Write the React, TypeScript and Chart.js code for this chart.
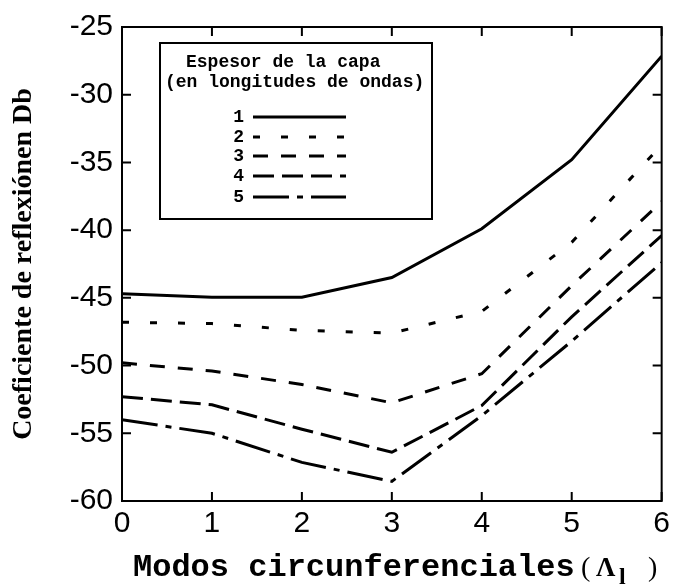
import React, { useEffect, useRef } from "react";
import { Chart, registerables } from "chart.js";

Chart.register(...registerables);

const modes = [0, 1, 2, 3, 4, 5, 6];
const capa1 = [-44.7, -44.95, -44.95, -43.5, -39.9, -34.8, -27.15];
const capa2 = [-46.8, -46.9, -47.4, -47.6, -46.0, -40.9, -33.7];
const capa3 = [-49.8, -50.4, -51.4, -52.75, -50.6, -44.1, -37.9];
const capa4 = [-52.3, -52.9, -54.7, -56.4, -52.95, -46.4, -40.4];
const capa5 = [-54.0, -55.0, -57.15, -58.55, -53.7, -48.2, -42.4];
const seriesLabels = ["1", "2", "3", "4", "5"];
const legendTitle = ["Espesor de la capa", "(en longitudes de ondas)"];
const yTitle = "Coeficiente de reflexiónen Db";
const xTitleMain = "Modos circunferenciales";

const dashes: number[][] = [[], [7, 21], [15, 13], [21, 8], [36, 8, 6, 8]];

const frameTicks = {
  id: "frameTicks",
  afterDatasetsDraw(chart: any) {
    const { ctx, chartArea } = chart;
    const { left, right, top, bottom } = chartArea;
    const xs = chart.scales.x;
    const ys = chart.scales.y;
    ctx.save();
    ctx.strokeStyle = "#000";
    ctx.lineWidth = 2;
    ctx.setLineDash([]);
    ctx.strokeRect(left, top, right - left, bottom - top);
    const tl = 9;
    ctx.beginPath();
    xs.ticks.forEach((t: any) => {
      const px = xs.getPixelForValue(t.value);
      ctx.moveTo(px, bottom);
      ctx.lineTo(px, bottom - tl);
      ctx.moveTo(px, top);
      ctx.lineTo(px, top + tl);
    });
    ys.ticks.forEach((t: any) => {
      const py = ys.getPixelForValue(t.value);
      ctx.moveTo(left, py);
      ctx.lineTo(left + tl, py);
      ctx.moveTo(right, py);
      ctx.lineTo(right - tl, py);
    });
    ctx.stroke();
    ctx.restore();
  },
};

const boxLegend = {
  id: "boxLegend",
  afterDraw(chart: any) {
    const { ctx } = chart;
    const bx = 160, by = 43, bw = 272, bh = 176;
    ctx.save();
    ctx.fillStyle = "#fff";
    ctx.fillRect(bx, by, bw, bh);
    ctx.strokeStyle = "#000";
    ctx.lineWidth = 2;
    ctx.setLineDash([]);
    ctx.strokeRect(bx, by, bw, bh);
    ctx.fillStyle = "#000";
    ctx.font = "bold 18px 'Liberation Mono'";
    ctx.textAlign = "left";
    ctx.textBaseline = "middle";
    ctx.fillText(legendTitle[0], 186, 62);
    ctx.fillText(legendTitle[1], 165, 82);
    const rows = [117, 137, 156, 176, 197];
    chart.data.datasets.forEach((ds: any, i: number) => {
      ctx.textAlign = "right";
      ctx.fillStyle = "#000";
      ctx.fillText(seriesLabels[i], 244, rows[i]);
      ctx.beginPath();
      ctx.lineWidth = 3;
      ctx.setLineDash(ds.borderDash || []);
      ctx.moveTo(253, rows[i]);
      ctx.lineTo(346, rows[i]);
      ctx.stroke();
    });
    ctx.restore();
  },
};

const xTitle = {
  id: "xTitle",
  afterDraw(chart: any) {
    const { ctx } = chart;
    ctx.save();
    ctx.fillStyle = "#000";
    ctx.textBaseline = "alphabetic";
    ctx.textAlign = "left";
    const base = 576;
    ctx.font = "bold 32px 'Liberation Mono'";
    ctx.fillText(xTitleMain, 133, base);
    ctx.font = "28px 'Liberation Serif'";
    ctx.fillText("(", 581, base);
    ctx.font = "bold 27px 'Liberation Serif'";
    ctx.fillText("Λ", 596, base);
    ctx.font = "bold 24px 'Liberation Serif'";
    ctx.fillText("l", 619, base + 8);
    ctx.font = "28px 'Liberation Serif'";
    ctx.fillText(")", 648, base);
    ctx.restore();
  },
};

export default function App() {
  const ref = useRef<HTMLCanvasElement>(null);
  useEffect(() => {
    if (!ref.current) return;
    const series = [capa1, capa2, capa3, capa4, capa5];
    const chart = new Chart(ref.current, {
      type: "line",
      data: {
        datasets: series.map((s, i) => ({
          label: seriesLabels[i],
          data: s.map((v, j) => ({ x: modes[j], y: v })),
          borderColor: "#000",
          borderWidth: 3,
          borderDash: dashes[i],
          pointRadius: 0,
          fill: false,
          tension: 0,
        })),
      },
      options: {
        animation: false,
        responsive: false,
        layout: { padding: { top: 18, right: 11, left: 0, bottom: 0 } },
        plugins: { legend: { display: false }, tooltip: { enabled: false } },
        scales: {
          x: {
            type: "linear",
            min: 0,
            max: 6,
            grid: { display: false, drawTicks: false },
            border: { display: false },
            ticks: {
              stepSize: 1,
              color: "#000",
              padding: 5,
              font: { family: "'Liberation Sans'", size: 30 },
            },
            afterFit: (s: any) => {
              s.height = 85;
            },
          },
          y: {
            type: "linear",
            min: -60,
            max: -25,
            grid: { display: false, drawTicks: false },
            border: { display: false },
            ticks: {
              stepSize: 5,
              color: "#000",
              padding: 9,
              font: { family: "'Liberation Sans'", size: 30 },
            },
            title: {
              display: true,
              text: yTitle,
              color: "#000",
              font: { family: "'Liberation Serif'", size: 28, weight: "bold" },
              padding: { top: 7, bottom: 0 },
            },
            afterFit: (s: any) => {
              s.width = 122;
            },
          },
        },
      },
      plugins: [frameTicks, boxLegend, xTitle],
    });
    return () => chart.destroy();
  }, []);
  return (
    <div style={{ position: "fixed", left: 0, top: 0, width: 675, height: 586, background: "#fff" }}>
      <canvas ref={ref} width={675} height={586} />
    </div>
  );
}
